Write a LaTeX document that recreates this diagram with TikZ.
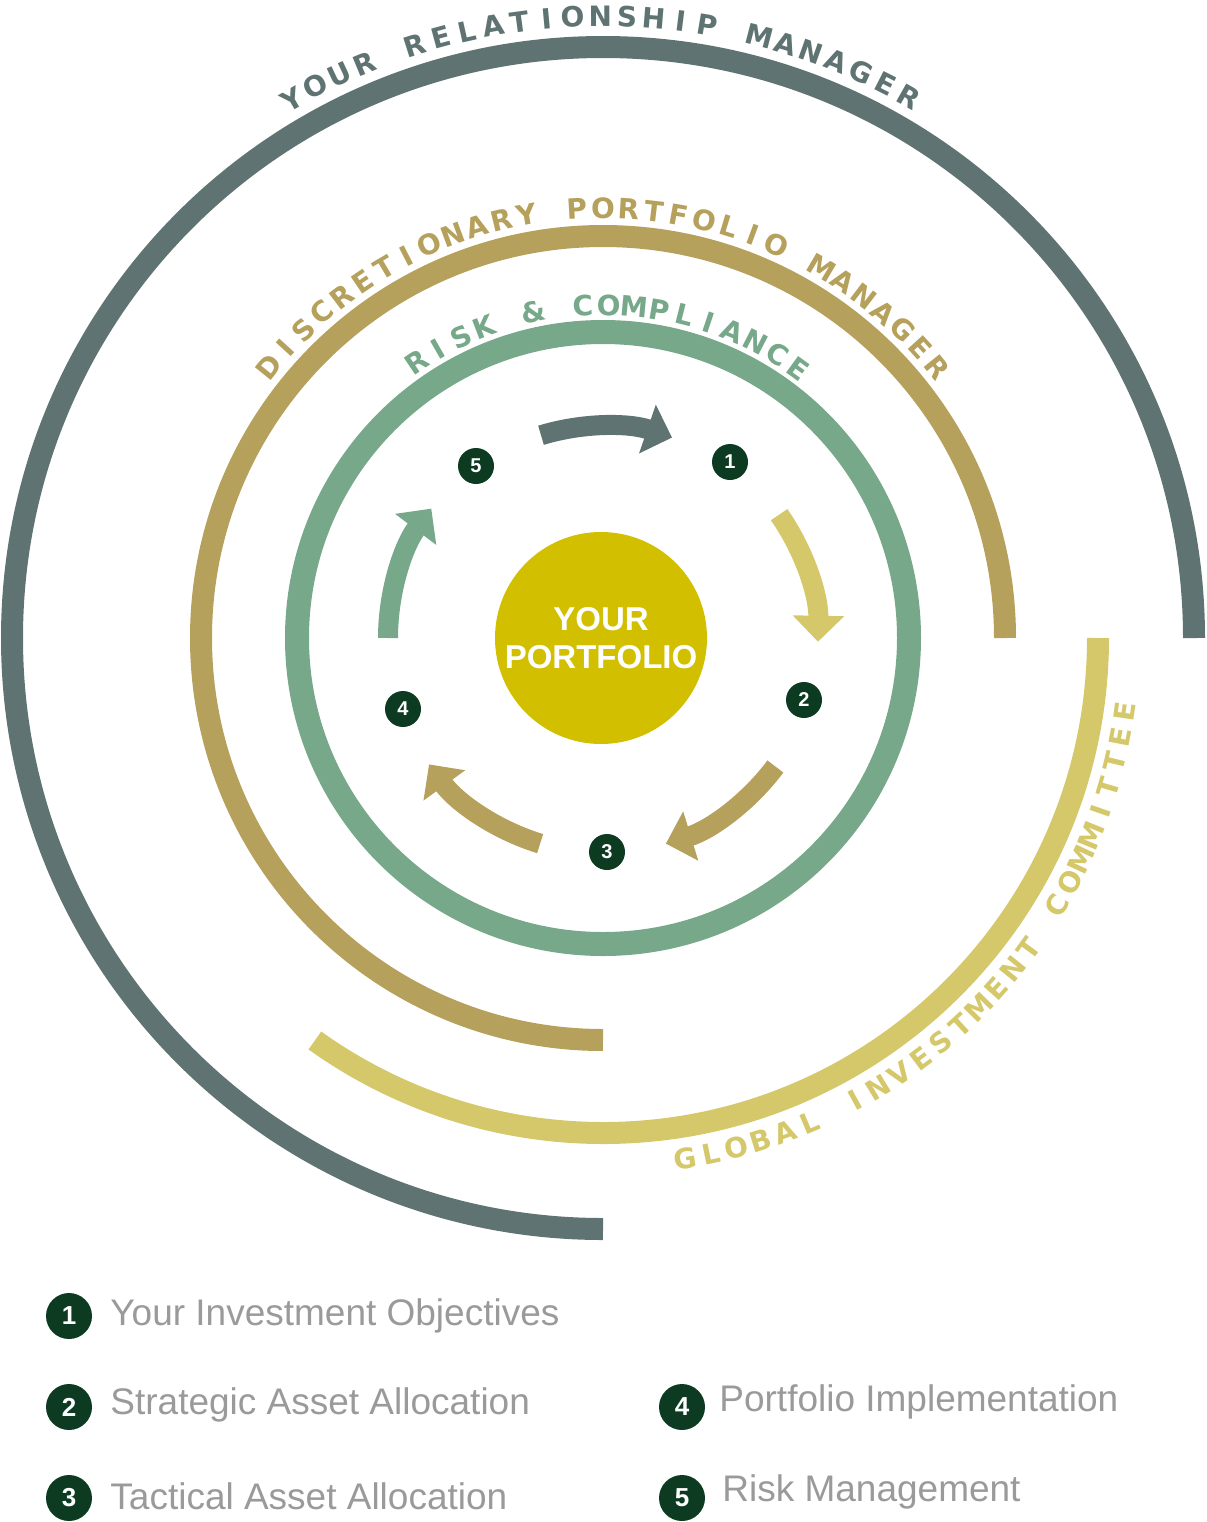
\documentclass[tikz,border=0pt]{standalone}
\usepackage{fontspec}
\setmainfont{Liberation Sans}
\newfontfamily\arcfam{DejaVu Sans}
\usetikzlibrary{arrows.meta}
\definecolor{slate}{HTML}{5F7472}
\definecolor{gold}{HTML}{B5A05C}
\definecolor{sage}{HTML}{77A88A}
\definecolor{straw}{HTML}{D5C86A}
\definecolor{core}{HTML}{D2C000}
\definecolor{dgreen}{HTML}{0D3B22}
\definecolor{legtxt}{HTML}{9A9A9A}
\newcommand\arcfont{\arcfam\bfseries\fontsize{14}{17}\selectfont}
\tikzset{
 ring/.style={line width=11pt,line cap=butt},
 flow/.style={line width=10pt,-{Triangle[length=13pt,width=25pt]}},
 num/.style={circle,fill=dgreen,text=white,inner sep=0pt,minimum size=18pt,font=\bfseries\fontsize{10}{12}\selectfont},
 bignum/.style={circle,fill=dgreen,text=white,inner sep=0pt,minimum size=23pt,font=\bfseries\fontsize{13}{15}\selectfont},
 arclbl/.style={inner sep=0pt,font=\arcfont},
 leg/.style={anchor=west,text=legtxt,inner sep=0pt,font=\fontsize{18.5}{21}\selectfont}
}
% #1 colour, #2 radius (px), #3 start angle, #4 end angle, #5 characters
\newcommand\arctext[5]{%
 \gdef\totw{0}\gdef\cnt{0}%
 \foreach \c in {#5}{\setbox0\hbox{\arcfont\c}\edef\cw{\the\wd0}%
  \pgfmathsetmacro\tmp{\totw+\cw}\xdef\totw{\tmp}%
  \pgfmathsetmacro\tmp{\cnt+1}\xdef\cnt{\tmp}}%
 \pgfmathsetmacro\arclen{abs(#4-#3)*pi/180*#2*0.5}%
 \pgfmathsetmacro\arcsp{(\arclen-\totw)/(\cnt-1)}%
 \pgfmathsetmacro\arcdir{sign(#4-#3)}%
 \xdef\cur{#3}%
 \foreach \c in {#5}{\setbox0\hbox{\arcfont\c}\edef\cw{\the\wd0}%
  \pgfmathsetmacro\a{\cur+\arcdir*(\cw/2)/(#2*0.5)*180/pi}%
  \node[arclbl,text=#1,rotate=\a+\arcdir*90] at (\a:#2) {\c};%
  \pgfmathsetmacro\tmp{\cur+\arcdir*(\cw+\arcsp)/(#2*0.5)*180/pi}\xdef\cur{\tmp}}%
}
\begin{document}
\begin{tikzpicture}[x=0.5pt,y=0.5pt]
\useasboundingbox (0,0) rectangle (1206,-1522);
\begin{scope}[shift={(603,-638)}]
\draw[ring,slate] (0:591) arc[start angle=0,end angle=270,radius=591];
\draw[ring,gold] (0:402) arc[start angle=0,end angle=270,radius=402];
\draw[ring,straw] (0:495) arc[start angle=0,end angle=-125.6,radius=495];
\draw[sage,line width=12pt] (0,0) circle[radius=306];
\node[circle,fill=core,minimum size=106pt,inner sep=0pt,text=white,align=center,font=\bfseries\fontsize{16.5}{19}\selectfont] (core) at (-2,0) {YOUR\\PORTFOLIO};
\arctext{slate}{622}{120}{60.5}{Y,O,U,R,\ ,R,E,L,A,T,I,O,N,S,H,I,P,\ ,M,A,N,A,G,E,R}
\arctext{gold}{430}{141}{39}{D,I,S,C,R,E,T,I,O,N,A,R,Y,\ ,P,O,R,T,F,O,L,I,O,\ ,M,A,N,A,G,E,R}
\arctext{sage}{333}{124}{54}{R,I,S,K,\ ,\&,\ ,C,O,M,P,L,I,A,N,C,E}
\arctext{straw}{527}{-81}{-8}{G,L,O,B,A,L,\ ,I,N,V,E,S,T,M,E,N,T,\ ,C,O,M,M,I,T,T,E,E}
\draw[flow,slate] (107:212) arc[start angle=107,end angle=71,radius=212];
\draw[flow,straw] (35:215) arc[start angle=35,end angle=-1,radius=215];
\draw[flow,gold] (-36.7:215) arc[start angle=-36.7,end angle=-73,radius=215];
\draw[flow,gold] (-107:215) arc[start angle=-107,end angle=-144,radius=215];
\draw[flow,sage] (180:215) arc[start angle=180,end angle=143,radius=215];
\end{scope}
\node[num] (n1) at (730,-462) {1};
\node[num] (n2) at (804,-700) {2};
\node[num] (n3) at (607,-852) {3};
\node[num] (n4) at (403,-709) {4};
\node[num] (n5) at (476,-466) {5};
\node[bignum] (l1) at (69,-1316) {1};
\node[bignum] (l2) at (69,-1407) {2};
\node[bignum] (l3) at (69,-1498) {3};
\node[bignum] (l4) at (682,-1407) {4};
\node[bignum] (l5) at (682,-1498) {5};
\node[leg] (t1) at (110,-1316) {Your Investment Objectives};
\node[leg] (t2) at (110,-1405) {Strategic Asset Allocation};
\node[leg] (t3) at (110,-1496) {Tactical Asset Allocation};
\node[leg] (t4) at (719,-1402) {Portfolio Implementation};
\node[leg] (t5) at (722,-1492) {Risk Management};
\end{tikzpicture}
\end{document}
